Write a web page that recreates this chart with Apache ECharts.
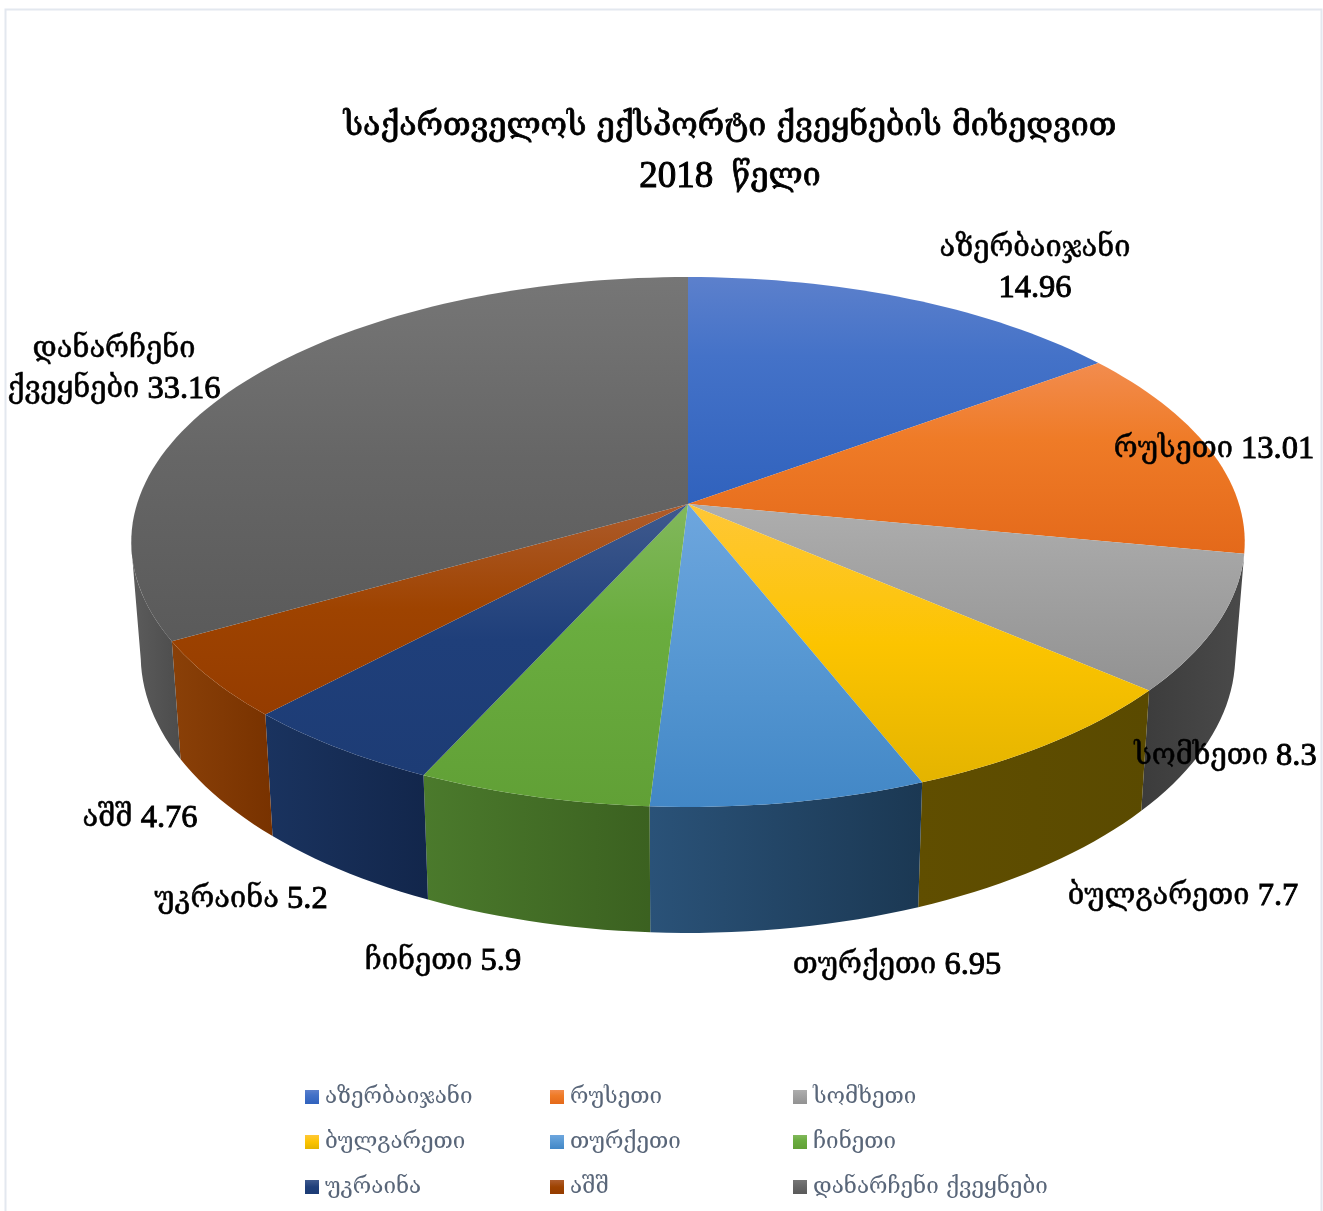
<!DOCTYPE html>
<html><head><meta charset="utf-8">
<style>html,body{margin:0;padding:0;background:#fff}#c{width:1323px;height:1211px}</style>
<script src="https://cdn.jsdelivr.net/npm/echarts@6/dist/echarts.min.js"></script>
</head><body><div id="c"></div>
<script>
const categories=['აზერბაიჯანი','რუსეთი','სომხეთი','ბულგარეთი','თურქეთი','ჩინეთი','უკრაინა','აშშ','დანარჩენი ქვეყნები'];
const values=[14.96,13.01,8.3,7.7,6.95,5.9,5.2,4.76,33.16];
const titleLine1='საქართველოს ექსპორტი ქვეყნების მიხედვით';
const titleYear='2018';
const titleWord='წელი';

const topStops=[['#5c80cc','#4472c8','#3062bd'],['#f28c4e','#ef7b27','#e4691a'],['#aeaeae','#a5a5a5','#929292'],['#ffc737','#fcc400','#e4b400'],['#6ea6de','#5b9bd5','#4287c6'],['#82b85c','#6aad3f','#61a036'],['#3f5a8e','#1f3f7a','#1d3c75'],['#ae5c2c','#9e4300','#953c00'],['#767676','#666666','#5a5a5a']];
const midOffsets=[.35,.4,.3,.5,.4,.4,.5,.5,.5];
const wallStops=[['#22417a','#1e3a70'],['#8a4615','#7a3c10'],['#3c3c3c','#4a4a4a'],['#604e00','#5a4a00'],['#2a5278','#1b3853'],['#4b7a2c','#3b6120'],['#1a335f','#12264b'],['#8a4008','#783200'],['#5c5c5c','#4c4c4c']];
const labelCenters=[[1035,268],[1214,449],[1225.5,756],[1183,896],[897,965],[443,961],[241,899],[140,818],[114,369]];
const legendCols=[[0,3,6],[1,4,7],[2,5,8]];
const legendLefts=[305,550,793];

const total=values.reduce((a,b)=>a+b,0);
const starts=values.map((_,i)=>values.slice(0,i).reduce((a,b)=>a+b,0));
// projective map of the unit disc onto the picture plane
const CX=688,CY=504,K=551,B=259.5,C=-0.1434;
// the wall is only seen between its two silhouette tangents
const WALL_FROM=101,WALL_TO=261;
function topPt(deg){const a=deg*Math.PI/180,x=Math.sin(a),y=-Math.cos(a),w=1+C*y;return [CX+K*x/w,CY+B*y/w];}
function lowPt(deg){const p=topPt(deg);return [CX+0.983*(p[0]-CX),933+1.048*(p[1]-807)];}
function arc(fn,a0,a1){const n=Math.max(2,Math.ceil((a1-a0)/1.5));const r=[];for(let i=0;i<=n;i++)r.push(fn(a0+(a1-a0)*i/n));return r;}
function vGrad(c,m){return {type:'linear',x:0,y:0,x2:0,y2:1,colorStops:[{offset:0,color:c[0]},{offset:m,color:c[1]},{offset:1,color:c[2]}]};}
function hGrad(c){return {type:'linear',x:0,y:0,x2:1,y2:0,colorStops:[{offset:0,color:c[0]},{offset:1,color:c[1]}]};}

function renderTop(params,api){
  const v=api.value(0),s=api.value(1),i=api.value(2);
  const a0=s/total*360,a1=(s+v)/total*360;
  return {type:'polygon',shape:{points:[[CX,CY]].concat(arc(topPt,a0,a1))},style:{fill:vGrad(topStops[i],midOffsets[i])}};
}
function renderWall(params,api){
  const v=api.value(0),s=api.value(1),i=api.value(2);
  const a0=Math.max(s/total*360,WALL_FROM),a1=Math.min((s+v)/total*360,WALL_TO);
  if(a1<=a0) return null;
  return {type:'polygon',shape:{points:arc(topPt,a0,a1).concat(arc(lowPt,a0,a1).reverse())},style:{fill:hGrad(wallStops[i])}};
}
const SERIF='"Liberation Serif"';
const GEO='"DejaVu Serif"';
function labelRich(i){
  const n=categories[i],v=values[i];
  if(i===0) return `{g|${n}}\n{d|${v}}`;
  if(i===8){const p=n.split(' ');return `{g|${p[0]}}\n{g|${p[1]}}{d| ${v}}`;}
  return `{g|${n}}{d| ${v}}`;
}
function renderLabel(params,api){
  const i=params.dataIndex;
  return {type:'text',x:labelCenters[i][0],y:labelCenters[i][1],style:{text:labelRich(i),align:'center',verticalAlign:'middle',
    rich:{g:{fontFamily:GEO,fontSize:29,lineHeight:40,fill:'#000',stroke:'#000',lineWidth:0.5},
          d:{fontFamily:SERIF,fontSize:32.5,lineHeight:40,fill:'#000',stroke:'#000',lineWidth:0.9}}}};
}
const rows=values.map((v,i)=>[v,starts[i],i]);
const series=[{type:'custom',name:'walls',coordinateSystem:'none',renderItem:renderWall,data:rows,z:1,silent:true}]
 .concat(categories.map((c,i)=>({type:'custom',name:c,coordinateSystem:'none',renderItem:renderTop,data:[rows[i]],z:2,itemStyle:{color:topStops[i][1]}})))
 .concat([{type:'custom',name:'labels',coordinateSystem:'none',renderItem:renderLabel,data:rows,z:3,silent:true}]);
const legends=legendCols.map((col,k)=>({orient:'vertical',left:legendLefts[k],top:1086,padding:0,itemWidth:14,itemHeight:14,itemGap:23,icon:'rect',
  data:col.map(i=>({name:categories[i],itemStyle:{color:vGrad(topStops[i],midOffsets[i])}})),
  textStyle:{color:'#596679',fontSize:22.4,lineHeight:22,fontFamily:GEO,padding:[0,0,0,1]}}));
const chart=echarts.init(document.getElementById('c'),null,{renderer:'canvas'});
chart.setOption({animation:false,backgroundColor:'#fff',
  title:{text:`{g|${titleLine1}}\n{d|${titleYear}  }{g|${titleWord}}`,left:725,top:97,textAlign:'center',
    textStyle:{fontWeight:'normal',rich:{g:{fontFamily:GEO,fontWeight:'normal',fontSize:32.1,lineHeight:50,color:'#000',textBorderColor:'#000',textBorderWidth:0.8},
                     d:{fontFamily:SERIF,fontWeight:'normal',fontSize:37,lineHeight:50,color:'#000',textBorderColor:'#000',textBorderWidth:1}}}},
  legend:legends,series,
  graphic:[{type:'rect',z:-1,shape:{x:5.5,y:9.5,width:1316,height:1210},style:{fill:'none',stroke:'#e3e8ef',lineWidth:2}}]
});
</script></body></html>
